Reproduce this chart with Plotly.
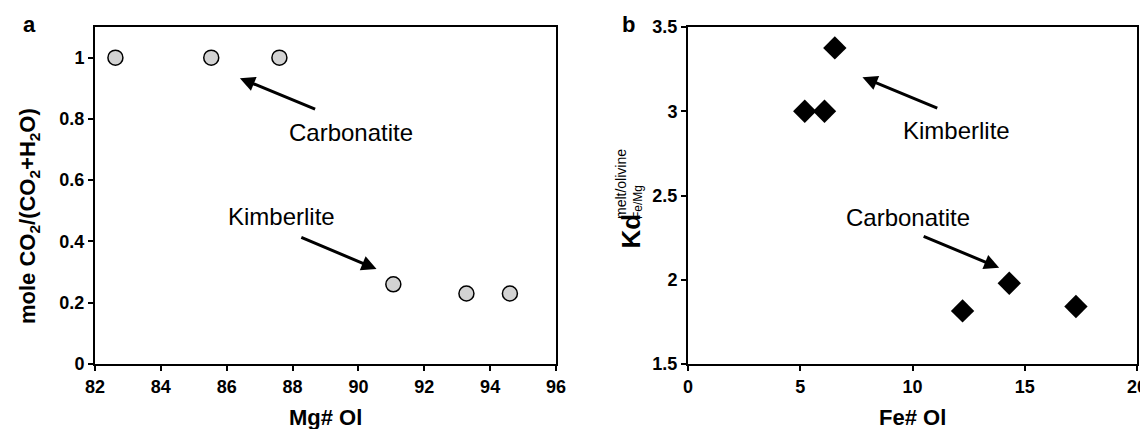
import plotly.graph_objects as go

# ---- data ----
mg_ol = [82.62, 85.53, 87.60, 91.06, 93.28, 94.60]
co2_frac = [1.0, 1.0, 1.0, 0.26, 0.23, 0.23]

fe_ol = [5.2, 6.08, 6.54, 12.23, 14.31, 17.28]
kd_femg = [3.0, 3.0, 3.376, 1.815, 1.979, 1.841]

xa_ticks = [82, 84, 86, 88, 90, 92, 94, 96]
ya_ticks = [0, 0.2, 0.4, 0.6, 0.8, 1]
ya_labels = ["0", "0.2", "0.4", "0.6", "0.8", "1"]
xb_ticks = [0, 5, 10, 15, 20]
yb_ticks = [1.5, 2, 2.5, 3, 3.5]
yb_labels = ["1.5", "2", "2.5", "3", "3.5"]

W, H = 1148, 429
FONT = "Liberation Sans, Arial, sans-serif"


def px(x):
    return x / W


def py(y):
    return 1 - y / H


fig = go.Figure()
fig.add_trace(go.Scatter(
    x=mg_ol, y=co2_frac, mode="markers", xaxis="x", yaxis="y",
    marker=dict(symbol="circle", size=15, color="#d3d3d3",
                line=dict(color="black", width=1.5)),
    showlegend=False))
fig.add_trace(go.Scatter(
    x=fe_ol, y=kd_femg, mode="markers", xaxis="x2", yaxis="y2",
    marker=dict(symbol="diamond", size=18, color="black",
                line=dict(color="black", width=0)),
    showlegend=False))

axis_common = dict(
    showline=True, linecolor="black", linewidth=2, mirror=True,
    ticks="outside", ticklen=5, tickwidth=1.5, tickcolor="black",
    showgrid=False, zeroline=False, automargin=False,
    tickfont=dict(family=FONT, size=18, color="black", weight="bold"),
)

ydom = [py(356), py(19)]
fig.update_layout(
    width=W, height=H,
    margin=dict(l=0, r=0, t=0, b=0),
    paper_bgcolor="white", plot_bgcolor="white",
    font=dict(family=FONT, color="black"),
    xaxis=dict(domain=[px(87), px(548)], range=[82, 96], tickvals=xa_ticks,
               anchor="y", **axis_common),
    yaxis=dict(domain=ydom, range=[0, 1.1], tickvals=ya_ticks,
               ticktext=ya_labels, anchor="x", **axis_common),
    xaxis2=dict(domain=[px(680), px(1129)], range=[0, 20], tickvals=xb_ticks,
                anchor="y2", **axis_common),
    yaxis2=dict(domain=ydom, range=[1.5, 3.5], tickvals=yb_ticks,
                ticktext=yb_labels, anchor="x2", **axis_common),
)

ann = []


def paper_text(text, x, y, size, angle=0, xanchor="center", yanchor="middle"):
    ann.append(dict(text=text, x=px(x), y=py(y), xref="paper", yref="paper",
                    showarrow=False, textangle=angle, xanchor=xanchor,
                    yanchor=yanchor, font=dict(family=FONT, size=size, color="black")))


# panel letters
paper_text("<b>a</b>", 21, 17, 22)
paper_text("<b>b</b>", 620, 17, 22)
# axis titles
paper_text("<b>Mg# Ol</b>", 317.5, 409, 22)
paper_text("<b>Fe# Ol</b>", 904.5, 409, 22)
paper_text("<b>mole CO<sub>2</sub>/(CO<sub>2</sub>+H<sub>2</sub>O)</b>", 21, 208, 22, angle=-90)
paper_text("<b>Kd</b>", 622, 243, 26, angle=-90, yanchor="bottom")
paper_text("melt/olivine", 613, 213, 14, angle=-90, yanchor="bottom")
paper_text("Fe/Mg", 630, 213, 12, angle=-90, yanchor="bottom")


def data_text(text, x, y, xr, yr):
    ann.append(dict(text=text, x=x, y=y, xref=xr, yref=yr, showarrow=False,
                    font=dict(family=FONT, size=24, color="black")))


def arrow(x0, y0, x1, y1, xr, yr):
    ann.append(dict(text="", x=x1, y=y1, ax=x0, ay=y0, xref=xr, yref=yr,
                    axref=xr, ayref=yr, showarrow=True, arrowhead=2,
                    arrowsize=1, arrowwidth=3, arrowcolor="black"))


data_text("Carbonatite", 89.78, 0.756, "x", "y")
arrow(88.73, 0.83, 86.40, 0.933, "x", "y")
data_text("Kimberlite", 87.66, 0.48, "x", "y")
arrow(88.22, 0.415, 90.55, 0.31, "x", "y")

data_text("Kimberlite", 11.97, 2.883, "x2", "y2")
arrow(11.17, 3.015, 7.77, 3.202, "x2", "y2")
data_text("Carbonatite", 9.78, 2.371, "x2", "y2")
arrow(10.43, 2.261, 13.86, 2.071, "x2", "y2")

fig.update_layout(annotations=ann)
fig.write_html("out.html")
